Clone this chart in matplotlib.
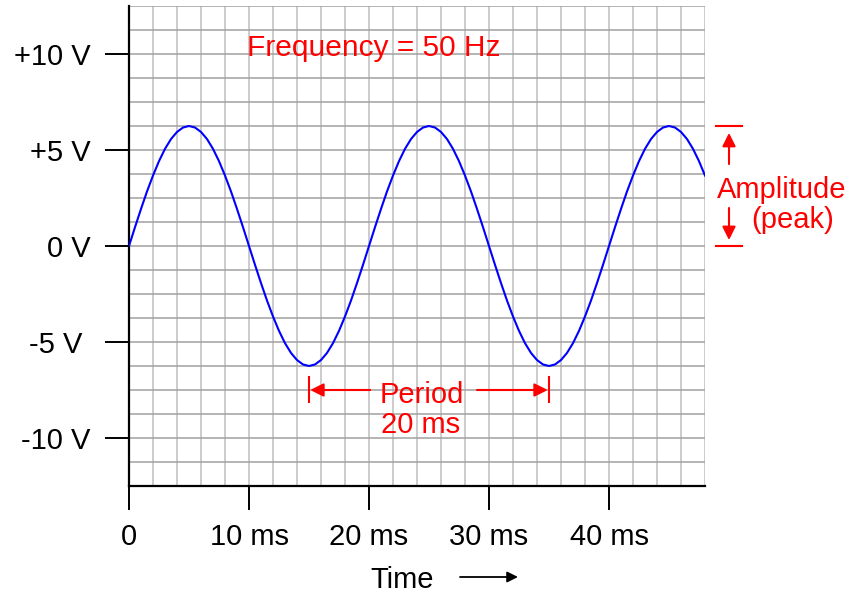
import matplotlib
matplotlib.use("Agg")
import matplotlib.pyplot as plt

plt.rcParams['font.family'] = ['Liberation Sans', 'DejaVu Sans']

# time in ms (0.5 ms steps) and voltage
time_ms = [i * 0.5 for i in range(97)]
volts = [0.0, 0.98, 1.93, 2.84, 3.67, 4.42, 5.06, 5.57, 5.94, 6.17,
         6.25, 6.17, 5.94, 5.57, 5.06, 4.42, 3.67, 2.84, 1.93, 0.98,
         0.0, -0.98, -1.93, -2.84, -3.67, -4.42, -5.06, -5.57, -5.94, -6.17,
         -6.25, -6.17, -5.94, -5.57, -5.06, -4.42, -3.67, -2.84, -1.93, -0.98,
         0.0, 0.98, 1.93, 2.84, 3.67, 4.42, 5.06, 5.57, 5.94, 6.17,
         6.25, 6.17, 5.94, 5.57, 5.06, 4.42, 3.67, 2.84, 1.93, 0.98,
         0.0, -0.98, -1.93, -2.84, -3.67, -4.42, -5.06, -5.57, -5.94, -6.17,
         -6.25, -6.17, -5.94, -5.57, -5.06, -4.42, -3.67, -2.84, -1.93, -0.98,
         0.0, 0.98, 1.93, 2.84, 3.67, 4.42, 5.06, 5.57, 5.94, 6.17,
         6.25, 6.17, 5.94, 5.57, 5.06, 4.42, 3.67]

x_ticks = [0, 10, 20, 30, 40]
x_labels = ["0", "10 ms", "20 ms", "30 ms", "40 ms"]
y_ticks = [-10, -5, 0, 5, 10]
y_labels = ["-10 V", "-5 V ", "0 V", "+5 V", "+10 V"]

peak = 6.25
period_start = 15
period_end = 35

red = "#ff0000"

fig = plt.figure(figsize=(8.52, 5.93), dpi=100)
ax = fig.add_axes([129 / 852, 1 - 486 / 593, 576 / 852, 480 / 593])
ax.set_xlim(0, 48)
ax.set_ylim(-12.5, 12.5)

# grid
ax.set_xticks([i * 2 for i in range(25)], minor=True)
ax.set_yticks([-12.5 + i * 1.25 for i in range(21)], minor=True)
ax.set_axisbelow(True)
ax.grid(which="both", axis="x", color="#c8c8c8", lw=1.3)
ax.grid(which="both", axis="y", color="#a0a0a0", lw=1.1)
ax.tick_params(which="minor", length=0)

ax.plot(time_ms, volts, color="#0000ff", lw=1.5, zorder=3)

ax.set_xticks(x_ticks, x_labels)
ax.set_yticks(y_ticks, y_labels)
ax.tick_params(which="major", length=17.5, width=1.4, labelsize=21, color="black")
ax.tick_params(axis="x", pad=9)
ax.tick_params(axis="y", pad=10)
for s in ["top", "right"]:
    ax.spines[s].set_visible(False)
for s in ["left", "bottom"]:
    ax.spines[s].set_linewidth(1.6)

fs = 21
ax.text(20.37, 9.9, "Frequency = 50 Hz", color=red, fontsize=21.5, ha="center", va="baseline")

# period marker
for xp in [period_start, period_end]:
    ax.plot([xp, xp], [-6.82, -8.13], color=red, lw=1.5, zorder=4)
ap = dict(arrowstyle="-|>", color=red, lw=1.5, mutation_scale=20, shrinkA=0, shrinkB=0)
ax.annotate("", xy=(period_start + 0.1, -7.5), xytext=(20.1, -7.5), arrowprops=ap)
ax.annotate("", xy=(period_end - 0.1, -7.5), xytext=(29.0, -7.5), arrowprops=ap)
ax.text(24.4, -8.18, "Period", color=red, fontsize=fs, ha="center", va="baseline")
ax.text(24.3, -9.74, "20 ms", color=red, fontsize=fs, ha="center", va="baseline")

# amplitude marker
ax.plot([48.92, 51.08], [peak, peak], color=red, lw=1.5, clip_on=False)
ax.plot([48.92, 51.08], [0, 0], color=red, lw=1.5, clip_on=False)
ax.annotate("", xy=(50.0, 5.89), xytext=(50.0, 4.27), arrowprops=ap, annotation_clip=False)
ax.annotate("", xy=(50.0, 0.31), xytext=(50.0, 1.98), arrowprops=ap, annotation_clip=False)
ax.text(54.4, 2.5, "Amplitude", color=red, fontsize=fs, ha="center", va="baseline", clip_on=False)
ax.text(55.3, 0.94, "(peak)", color=red, fontsize=fs, ha="center", va="baseline", clip_on=False)

# axis title with arrow
fig.text(402 / 852, 1 - 588 / 593, "Time", fontsize=fs, ha="center", va="baseline")
ax.annotate("", xy=(518 / 852, 1 - 577 / 593), xytext=(460 / 852, 1 - 577 / 593),
            xycoords="figure fraction", textcoords="figure fraction",
            arrowprops=dict(arrowstyle="-|>", color="black", lw=1.3, mutation_scale=16,
                            shrinkA=0, shrinkB=0))

fig.savefig("out.png", dpi=100)
